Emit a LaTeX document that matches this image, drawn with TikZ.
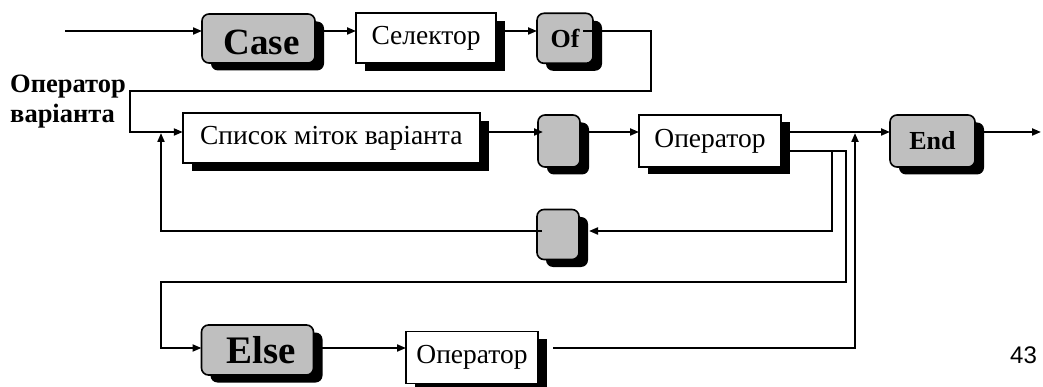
\documentclass[tikz,border=0pt]{standalone}
\usepackage{fontspec}
\setmainfont{Liberation Serif}
\newfontfamily\arialf{Liberation Sans}
\usetikzlibrary{arrows.meta,shadows,calc}
\newcommand\fsz[1]{\fontsize{#1}{#1}\selectfont}
\tikzset{
 conn/.style={line width=2pt},
 arr/.style={conn,-{Triangle[length=9pt,width=7pt]}},
 shad/.style={general shadow={fill=black, shadow xshift=9pt, shadow yshift=-7.5pt}},
 term/.style={draw, line width=1.6pt, fill=black!25, rounded corners=7pt, inner sep=0pt, outer sep=0pt, shad},
 nonterm/.style={draw, line width=1.6pt, fill=white, inner sep=0pt, outer sep=0pt, shad, font=\fsz{27.5}},
 lbl/.style={font=\bfseries\fsz{26.5}, anchor=base west, inner sep=0pt},
}
\begin{document}
\begin{tikzpicture}[x=1pt,y=-1pt]
\useasboundingbox (0,0) rectangle (1043,387);
% nodes
\node[term, minimum width=113pt, minimum height=49pt, font=\bfseries\fsz{37}, text height=33pt, text depth=0pt] (case) at (258.5,38.5) {\hspace*{6pt}Case};
\node[nonterm, minimum width=140pt, minimum height=50pt] (sel) at (426,38.3) {Селектор};
\node[term, minimum width=56pt, minimum height=50pt, font=\bfseries\fsz{26}] (of) at (565,38.3) {Of};
\node[nonterm, minimum width=297pt, minimum height=50pt] (list) at (331.3,138.3) {Список міток варіанта};
\node[term, minimum width=42pt, minimum height=52pt] (s1) at (559,141) {};
\node[nonterm, minimum width=142pt, minimum height=52pt] (op1) at (710,141) {Оператор};
\node[term, minimum width=85pt, minimum height=52pt, font=\bfseries\fsz{26}] (end) at (932.5,141) {End};
\node[term, minimum width=42pt, minimum height=50pt] (s2) at (558,234.5) {};
\node[term, minimum width=112pt, minimum height=50pt, font=\bfseries\fsz{39}] (else) at (257.5,350) {\hspace*{8pt}Else};
\node[nonterm, minimum width=132pt, minimum height=52pt] (op2) at (472,357.5) {Оператор};
% labels
\node[lbl] (lab1) at (10,93) {Оператор};
\node[lbl] (lab2) at (10,123) {варіанта};
\node[font=\arialf\fsz{24}, anchor=base west, inner sep=0pt] (pg) at (1010,363) {43};
% rows
\coordinate (in) at (65,31);
\coordinate (r2) at (0,132);
\coordinate (r3) at (0,151);
\coordinate (r4) at (0,231);
\coordinate (r6) at (0,348);
\coordinate (out) at (1041,132);
% connectors
\draw[arr] (in) -- (in -| case.west);
\draw[arr] (case.east |- in) -- (sel.west |- in);
\draw[arr] (sel.east |- in) -- (of.west |- in);
\draw[arr] ($(of.east |- in)+(-10,0)$) -| (651,91) -| (130,132) -- (list.west |- r2);
\draw[arr] (list.east |- r2) -- ($(s1.west |- r2)+(5,0)$);
\draw[arr] (s1.east |- r2) -- (op1.west |- r2);
\draw[arr] (op1.east |- r2) -- (end.west |- r2);
\draw[arr] (end.east |- r2) -- (out);
\draw[arr] (op1.east |- r3) -- (846,151) -- (846,282) -- (161,282) -- (161,348) -- (else.west |- r6);
\draw[arr] (832,151) -- (832,231) -- ($(s2.east |- r4)+(10,0)$);
\draw[arr] ($(s2.west |- r4)+(5,0)$) -- (161,231) -- (161,133);
\draw[arr] (else.east |- r6) -- (op2.west |- r6);
\draw[arr] ($(op2.east |- r6)+(15,0)$) -- (855,348) -- (855,133);
\end{tikzpicture}
\end{document}
